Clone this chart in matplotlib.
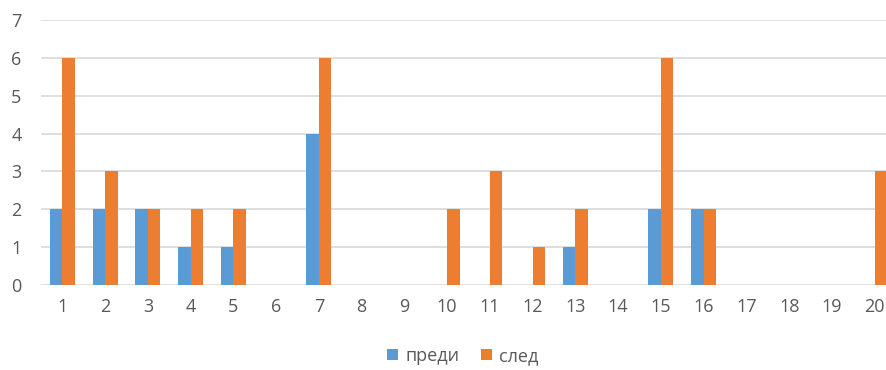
import matplotlib.pyplot as plt
import numpy as np

categories = [str(i) for i in range(1, 21)]
before = [2, 2, 2, 1, 1, 0, 4, 0, 0, 0, 0, 0, 1, 0, 2, 2, 0, 0, 0, 0]
after = [6, 3, 2, 2, 2, 0, 6, 0, 0, 2, 3, 1, 2, 0, 6, 2, 0, 0, 0, 3]
labels = ['преди', 'след']

plt.rcParams['font.family'] = ['Open Sans', 'DejaVu Sans']
text_color = '#595959'

fig = plt.figure(figsize=(8.86, 3.70), dpi=100)
ax = fig.add_axes([41 / 886, 85 / 370, (896 - 41) / 886, 265 / 370])

x = np.arange(1, len(categories) + 1)
w = 0.29
ax.bar(x - w / 2, before, width=w, color='#5B9BD5', label=labels[0], zorder=3)
ax.bar(x + w / 2, after, width=w, color='#ED7D31', label=labels[1], zorder=3)

ax.set_xlim(0.5, 20.5)
ax.set_ylim(0, 7)
ax.set_xticks(x)
ax.set_xticklabels(categories)
ax.set_yticks(range(0, 8))
for s in ax.spines.values():
    s.set_visible(False)
ax.grid(axis='y', color='#D9D9D9', linewidth=1.2, zorder=0)
ax.tick_params(length=0, labelsize=13, colors=text_color, pad=9)
ax.tick_params(axis='y', pad=14)

fig.legend(loc='center', bbox_to_anchor=(463 / 886, 1 - 356 / 370), ncol=2,
           frameon=False, fontsize=13, labelcolor=text_color,
           handlelength=0.6, handleheight=0.6, handletextpad=0.4, columnspacing=1.2)

fig.savefig('out.png', dpi=100)
